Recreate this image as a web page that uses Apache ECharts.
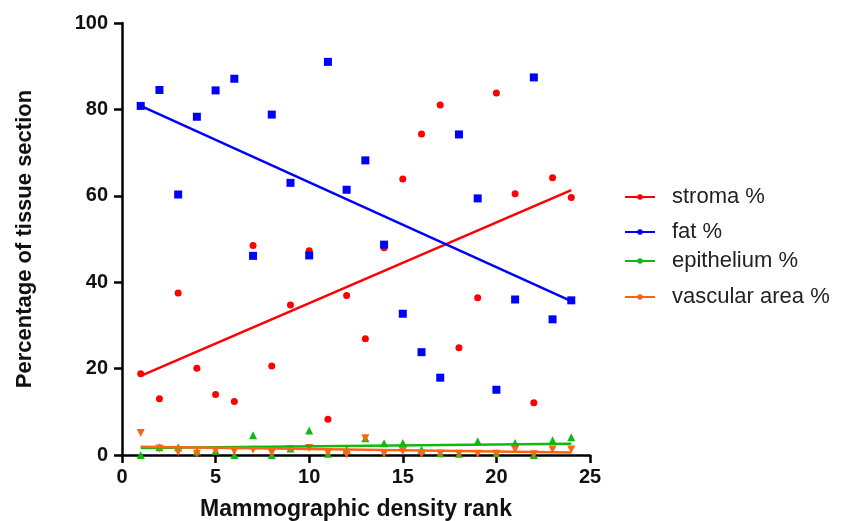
<!DOCTYPE html>
<html>
<head>
<meta charset="utf-8">
<script src="https://cdn.jsdelivr.net/npm/echarts@6/dist/echarts.min.js"></script>
<style>
  html, body { margin: 0; padding: 0; background: #fff; }
  #chart { width: 841px; height: 521px; }
</style>
</head>
<body>
<div id="chart"></div>
<script>
// mammographic density rank 1..24
const ranks = [1, 2, 3, 4, 5, 6, 7, 8, 9, 10, 11, 12, 13, 14, 15, 16, 17, 18, 19, 20, 21, 22, 23, 24];

const stroma = [18.8, 13.0, 37.5, 20.1, 14.0, 12.4, 48.5, 20.6, 34.7, 47.3, 8.3, 36.9,
                26.9, 48.0, 63.9, 74.3, 81.0, 24.8, 36.4, 83.8, 60.5, 12.1, 64.2, 59.6];
const fat = [80.8, 84.5, 60.3, 78.3, 84.4, 87.1, 46.1, 78.8, 63.0, 46.2, 91.0, 61.4,
             68.2, 48.7, 32.7, 23.8, 17.9, 74.2, 59.4, 15.1, 36.0, 87.4, 31.4, 35.8];
const epithelium = [0.0, 1.8, 1.8, 0.8, 1.0, 0.0, 4.6, 0.0, 1.5, 5.7, 0.3, 1.2,
                    3.9, 2.7, 2.8, 1.2, 0.4, 0.3, 3.2, 0.4, 2.8, 0.0, 3.4, 4.1];
const vascular = [5.1, 1.5, 0.7, 0.3, 1.0, 0.8, 1.2, 0.5, 1.4, 1.6, 0.5, 0.2,
                  3.9, 0.3, 0.9, 0.3, 0.3, 0.3, 0.3, 0.3, 1.3, 0.2, 1.3, 1.3];

// fitted trend lines, value at rank 1 and rank 24
const trendX = [1, 24];
const stromaTrend = [18.3, 61.3];
const fatTrend = [80.8, 35.6];
const epitheliumTrend = [1.6, 2.6];
const vascularTrend = [1.9, 0.6];

const xTicks = [0, 25, 5];
const yTicks = [0, 100, 20];

const groups = [
  { name: 'stroma %', vals: stroma, trend: stromaTrend, color: '#ff0000', symbol: 'circle', size: 7, top: 181 },
  { name: 'fat %', vals: fat, trend: fatTrend, color: '#0000ff', symbol: 'rect', size: 8, top: 216 },
  { name: 'epithelium %', vals: epithelium, trend: epitheliumTrend, color: '#12b812', symbol: 'triangle', size: 8, top: 245 },
  { name: 'vascular area %', vals: vascular, trend: vascularTrend, color: '#ff6414', symbol: 'path://M0,0 L10,0 L5,10 Z', size: 8, top: 281 }
];

const font = '"Liberation Sans", Arial, sans-serif';

const series = [];
groups.forEach(g => {
  series.push({
    name: g.name + ' pts',
    type: 'scatter',
    data: ranks.map((r, i) => [r, g.vals[i]]),
    symbol: g.symbol,
    symbolSize: g.size,
    itemStyle: { color: g.color, opacity: 1 },
    z: 3
  });
});
groups.forEach(g => {
  series.push({
    name: g.name,
    type: 'line',
    data: trendX.map((x, i) => [x, g.trend[i]]),
    symbol: 'circle',
    symbolSize: 5,
    showSymbol: false,
    lineStyle: { color: g.color, width: 2.5 },
    itemStyle: { color: g.color },
    z: 4
  });
});

const myChart = echarts.init(document.getElementById('chart'));

const option = {
  animation: false,
  backgroundColor: '#fff',
  grid: { left: 122, right: 251, top: 23, bottom: 66, outerBoundsMode: 'none' },
  legend: groups.map(g => ({
    data: [g.name],
    left: 619,
    top: g.top,
    itemWidth: 30,
    itemHeight: 7,
    textStyle: { fontFamily: font, fontSize: 22, color: '#222', padding: [0, 0, 0, 12] }
  })),
  xAxis: {
    type: 'value',
    min: xTicks[0],
    max: xTicks[1],
    interval: xTicks[2],
    name: 'Mammographic density rank',
    nameLocation: 'middle',
    nameGap: 43,
    nameTextStyle: { fontFamily: font, fontSize: 23, fontWeight: 'bold', color: '#111' },
    axisLine: { lineStyle: { color: '#000', width: 2.5 } },
    axisTick: { length: 8, lineStyle: { color: '#000', width: 2.5 } },
    axisLabel: { fontFamily: font, fontSize: 20, fontWeight: 'bold', color: '#111', margin: 12 },
    splitLine: { show: false }
  },
  yAxis: {
    type: 'value',
    min: yTicks[0],
    max: yTicks[1],
    interval: yTicks[2],
    name: 'Percentage of tissue section',
    nameLocation: 'middle',
    nameGap: 86,
    nameTextStyle: { fontFamily: font, fontSize: 22, fontWeight: 'bold', color: '#111' },
    axisLine: { show: true, lineStyle: { color: '#000', width: 2.5 } },
    axisTick: { show: true, length: 8, lineStyle: { color: '#000', width: 2.5 } },
    axisLabel: { fontFamily: font, fontSize: 20, fontWeight: 'bold', color: '#111', margin: 14 },
    splitLine: { show: false }
  },
  series: series
};

myChart.setOption(option);
</script>
</body>
</html>
